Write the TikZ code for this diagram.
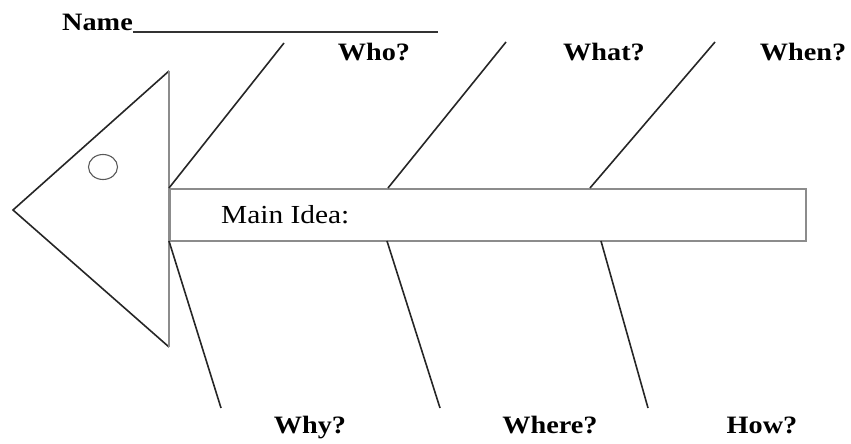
\documentclass[tikz,border=0pt]{standalone}
\usepackage{fontspec}
\setmainfont{Liberation Serif}
\usetikzlibrary{shapes.geometric}
\tikzset{
  bone/.style={draw=black!85, line width=1.6pt},
  frame/.style={draw=black!45, line width=1.7pt},
  lbl/.style={font=\fontsize{25}{28}\selectfont\bfseries, inner sep=0pt, anchor=base},
}
\newcommand{\wide}[1]{\scalebox{1.13}[1]{#1}}
\begin{document}
\begin{tikzpicture}[x=1pt,y=-1pt]
\useasboundingbox (0,0) rectangle (851,444);
% name line
\node[lbl, anchor=base west] (name) at (62,31) {\wide{Name}};
\coordinate (nl1) at (133,32);
\coordinate (nl2) at (438,32);
\draw[black!80, line width=1.4pt] (nl1) -- (nl2);
% head
\coordinate (tip) at (13,210);
\coordinate (ht) at (169,71);
\coordinate (hb) at (169,347);
\draw[bone] (ht) -- (tip) -- (hb);
\draw[frame] (ht) -- (hb);
\node[draw=black!65, line width=1.1pt, ellipse, minimum width=29pt, minimum height=25pt, inner sep=0pt] (eye) at (103,167) {};
% spine
\node[frame, rectangle, minimum width=636pt, minimum height=52pt, inner sep=0pt, anchor=north west] (spine) at (169,188) {};
\node[font=\fontsize{26}{28}\selectfont, anchor=west, inner sep=0pt] (mi) at (221,215) {\wide{Main Idea:}};
% upper bones
\coordinate (u1) at (169,188);
\coordinate (u2) at (388,188);
\coordinate (u3) at (590,188);
\coordinate (ue1) at (284,43);
\coordinate (ue2) at (506,42);
\coordinate (ue3) at (715,42);
\draw[bone] (u1) -- (ue1);
\draw[bone] (u2) -- (ue2);
\draw[bone] (u3) -- (ue3);
% lower bones
\coordinate (l1) at (169,241);
\coordinate (l2) at (387,241);
\coordinate (l3) at (601,241);
\coordinate (le1) at (221,408);
\coordinate (le2) at (440,408);
\coordinate (le3) at (648,408);
\draw[bone] (l1) -- (le1);
\draw[bone] (l2) -- (le2);
\draw[bone] (l3) -- (le3);
% labels
\node[lbl] (who) at (374,61) {\wide{Who?}};
\node[lbl] (what) at (604,61) {\wide{What?}};
\node[lbl] (when) at (803,61) {\wide{When?}};
\node[lbl] (why) at (310,433) {\wide{Why?}};
\node[lbl] (where) at (550,433) {\wide{Where?}};
\node[lbl] (how) at (762,433) {\wide{How?}};
\end{tikzpicture}
\end{document}
